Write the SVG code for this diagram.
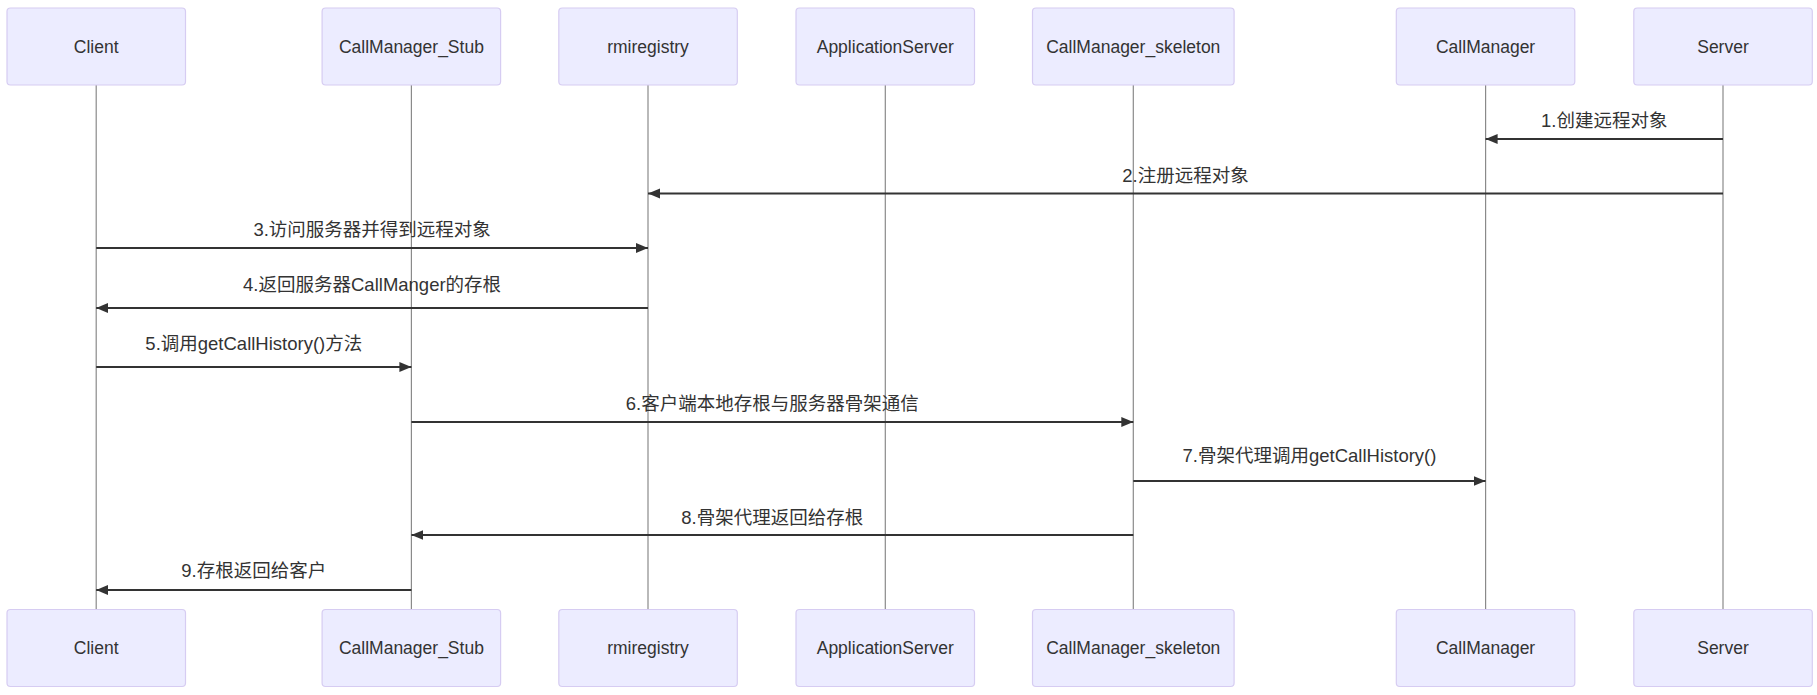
<svg xmlns="http://www.w3.org/2000/svg" width="1817" height="695" viewBox="0 0 1817 695">
<style>
.actor rect{fill:#ECECFF;stroke:#D6CCF2;stroke-width:1.2}
.actor text{font-family:"Liberation Sans","Noto Sans CJK SC",sans-serif;font-size:17.5px;fill:#333;text-anchor:middle;dominant-baseline:central}
.life{stroke:#8a8a8a;stroke-width:1.2}
.msg line{stroke:#333;stroke-width:1.8;marker-end:url(#arr)}
.msg text{font-family:"Liberation Sans","Noto Sans CJK SC",sans-serif;font-size:18.5px;fill:#333;text-anchor:middle;dominant-baseline:central}
</style>
<defs>
<marker id="arr" markerUnits="userSpaceOnUse" markerWidth="13" markerHeight="11" refX="12" refY="5" orient="auto">
<path d="M0,0 L12,5 L0,10 z" fill="#333"/>
</marker>
</defs>
<rect width="1817" height="695" fill="#fff"/>
<g id="lifelines">
<line class="life" x1="96.2" y1="85" x2="96.2" y2="610"/>
<line class="life" x1="411.4" y1="85" x2="411.4" y2="610"/>
<line class="life" x1="648" y1="85" x2="648" y2="610"/>
<line class="life" x1="885.3" y1="85" x2="885.3" y2="610"/>
<line class="life" x1="1133.3" y1="85" x2="1133.3" y2="610"/>
<line class="life" x1="1485.6" y1="85" x2="1485.6" y2="610"/>
<line class="life" x1="1723" y1="85" x2="1723" y2="610"/>
</g>
<g id="Client" class="actor">
<rect x="7" y="8" width="178.5" height="77" rx="3.5"/><text x="96.2" y="46.5">Client</text>
<rect x="7" y="609.5" width="178.5" height="77" rx="3.5"/><text x="96.2" y="648">Client</text>
</g>
<g id="CallManager_Stub" class="actor">
<rect x="322.1" y="8" width="178.5" height="77" rx="3.5"/><text x="411.4" y="46.5">CallManager_Stub</text>
<rect x="322.1" y="609.5" width="178.5" height="77" rx="3.5"/><text x="411.4" y="648">CallManager_Stub</text>
</g>
<g id="rmiregistry" class="actor">
<rect x="558.8" y="8" width="178.5" height="77" rx="3.5"/><text x="648" y="46.5">rmiregistry</text>
<rect x="558.8" y="609.5" width="178.5" height="77" rx="3.5"/><text x="648" y="648">rmiregistry</text>
</g>
<g id="ApplicationServer" class="actor">
<rect x="796" y="8" width="178.5" height="77" rx="3.5"/><text x="885.3" y="46.5">ApplicationServer</text>
<rect x="796" y="609.5" width="178.5" height="77" rx="3.5"/><text x="885.3" y="648">ApplicationServer</text>
</g>
<g id="CallManager_skeleton" class="actor">
<rect x="1032.5" y="8" width="201.6" height="77" rx="3.5"/><text x="1133.3" y="46.5">CallManager_skeleton</text>
<rect x="1032.5" y="609.5" width="201.6" height="77" rx="3.5"/><text x="1133.3" y="648">CallManager_skeleton</text>
</g>
<g id="CallManager" class="actor">
<rect x="1396.3" y="8" width="178.5" height="77" rx="3.5"/><text x="1485.6" y="46.5">CallManager</text>
<rect x="1396.3" y="609.5" width="178.5" height="77" rx="3.5"/><text x="1485.6" y="648">CallManager</text>
</g>
<g id="Server" class="actor">
<rect x="1633.8" y="8" width="178.5" height="77" rx="3.5"/><text x="1723" y="46.5">Server</text>
<rect x="1633.8" y="609.5" width="178.5" height="77" rx="3.5"/><text x="1723" y="648">Server</text>
</g>
<g id="connectors" class="msg">
<line x1="1723" y1="139" x2="1485.6" y2="139"/><text x="1604.3" y="120.5">1.创建远程对象</text>
<line x1="1723" y1="193.5" x2="648" y2="193.5"/><text x="1185.5" y="175">2.注册远程对象</text>
<line x1="96.2" y1="248" x2="648" y2="248"/><text x="372.1" y="229.5">3.访问服务器并得到远程对象</text>
<line x1="648" y1="308" x2="96.2" y2="308"/><text x="372.1" y="284">4.返回服务器CallManger的存根</text>
<line x1="96.2" y1="367" x2="411.4" y2="367"/><text x="253.8" y="343">5.调用getCallHistory()方法</text>
<line x1="411.4" y1="422" x2="1133.3" y2="422"/><text x="772.3" y="403">6.客户端本地存根与服务器骨架通信</text>
<line x1="1133.3" y1="481" x2="1485.6" y2="481"/><text x="1309.5" y="455">7.骨架代理调用getCallHistory()</text>
<line x1="1133.3" y1="535" x2="411.4" y2="535"/><text x="772.3" y="517">8.骨架代理返回给存根</text>
<line x1="411.4" y1="590" x2="96.2" y2="590"/><text x="253.8" y="570">9.存根返回给客户</text>
</g>
</svg>
